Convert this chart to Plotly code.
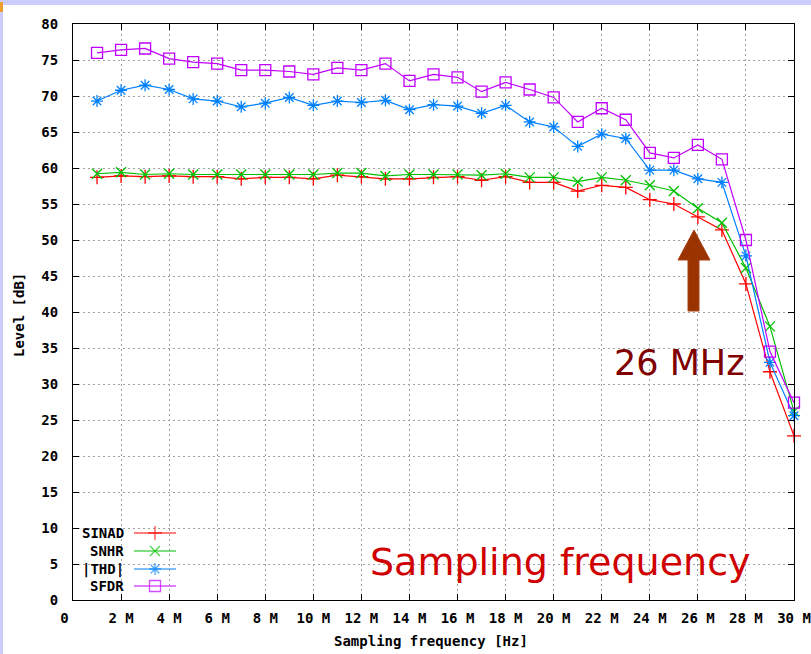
import plotly.graph_objects as go

# ---------------- data ----------------
freq_mhz = list(range(1, 31))
sinad = [58.7, 58.9, 58.8, 58.9, 58.8, 58.8, 58.5, 58.7, 58.7, 58.5,
         59.0, 58.8, 58.5, 58.5, 58.7, 58.8, 58.3, 58.8, 58.0, 58.0,
         56.8, 57.6, 57.3, 55.6, 55.0, 53.2, 51.4, 43.9, 31.7, 22.8]
snhr = [59.2, 59.4, 59.1, 59.2, 59.1, 59.1, 59.1, 59.1, 59.1, 59.1,
        59.3, 59.3, 58.9, 59.1, 59.1, 59.1, 59.0, 59.2, 58.7, 58.7,
        58.1, 58.7, 58.3, 57.6, 56.8, 54.4, 52.4, 46.1, 38.0, 26.2]
thd = [69.3, 70.8, 71.5, 70.9, 69.6, 69.3, 68.5, 69.0, 69.8, 68.7,
       69.3, 69.1, 69.4, 68.1, 68.8, 68.6, 67.6, 68.7, 66.4, 65.7,
       63.0, 64.7, 64.1, 59.7, 59.7, 58.5, 58.0, 47.8, 33.0, 25.6]
sfdr = [76.0, 76.4, 76.6, 75.2, 74.7, 74.5, 73.6, 73.6, 73.4, 73.0,
        73.9, 73.6, 74.5, 72.1, 73.0, 72.6, 70.6, 71.9, 70.9, 69.8,
        66.4, 68.3, 66.7, 62.1, 61.4, 63.2, 61.2, 50.0, 34.5, 27.4]

series_names = ["SINAD", "SNHR", "|THD|", "SFDR"]
series_values = [sinad, snhr, thd, sfdr]
series_colors = ["#ff0000", "#00c000", "#0080ff", "#c000ff"]
series_symbols = ["cross-thin-open", "x-thin-open", "asterisk-open", "square-open"]
series_sizes = [10, 10, 10, 11]

x_tick_vals = list(range(0, 31, 2))
x_tick_text = ["0\u00a0\u00a0"] + [f"{v} M" for v in range(2, 31, 2)]
y_tick_vals = list(range(0, 81, 5))

# ---------------- layout geometry (pixels) ----------------
W, H = 811, 654
L, R, T, B = 73, 794, 24, 600
pw, ph = R - L, B - T


def px_x(px):  # pixel -> paper x
    return (px - L) / pw


def px_y(py):  # pixel -> paper y
    return (B - py) / ph


mono = "DejaVu Sans Mono"
FS = 14

fig = go.Figure()

for name, vals, col, sym, sz in zip(series_names, series_values, series_colors,
                                    series_symbols, series_sizes):
    fig.add_trace(go.Scatter(
        x=freq_mhz, y=vals, mode="lines+markers", name=name,
        line=dict(color=col, width=1.2),
        marker=dict(symbol=sym, size=sz, color=col, line=dict(color=col, width=1.3)),
        showlegend=False, cliponaxis=False,
    ))

# ---- manual gnuplot-style legend (text left, sample right) ----
legend_rows_px = [533, 551, 569, 586]
shapes = []
annotations = []
# white box behind legend covering grid
shapes.append(dict(type="rect", xref="paper", yref="paper",
                   x0=px_x(L), x1=px_x(189), y0=px_y(B), y1=px_y(521),
                   fillcolor="white", line=dict(width=0), layer="between"))
for name, col, sym, sz, py in zip(series_names, series_colors, series_symbols,
                                  series_sizes, legend_rows_px):
    annotations.append(dict(xref="paper", yref="paper", x=px_x(126), y=px_y(py),
                            text=name, showarrow=False, xanchor="right", yanchor="middle",
                            font=dict(family=mono, size=FS, color="black", weight="bold")))
    shapes.append(dict(type="line", xref="paper", yref="paper",
                       x0=px_x(134), x1=px_x(176), y0=px_y(py), y1=px_y(py),
                       line=dict(color=col, width=1.2), layer="above"))
fig.add_trace(go.Scatter(
    x=[px_x(155)] * 4, y=[px_y(p) for p in legend_rows_px],
    xaxis="x2", yaxis="y2", mode="markers", showlegend=False, hoverinfo="skip",
    marker=dict(symbol=series_symbols, size=series_sizes, color=series_colors,
                line=dict(color=series_colors, width=1.3)),
))

# ---- arrow at 26 MHz ----
def ax_(px):
    return (px - L) / pw * 30


def ay_(py):
    return (B - py) / ph * 80


arrow_pts = [(688, 311), (688, 260), (678, 260), (694, 230), (710, 260), (699, 260), (699, 311)]
path = "M " + " L ".join(f"{ax_(x):.4f},{ay_(y):.4f}" for x, y in arrow_pts) + " Z"
shapes.append(dict(type="path", xref="x", yref="y", path=path,
                   fillcolor="#993300", line=dict(color="#a84010", width=1), layer="above"))

annotations.append(dict(xref="paper", yref="paper", x=px_x(679), y=px_y(363),
                        text="26 MHz", showarrow=False, xanchor="center", yanchor="middle",
                        font=dict(family="DejaVu Sans", size=35, color="#800000")))
annotations.append(dict(xref="paper", yref="paper", x=px_x(560), y=px_y(562),
                        text="Sampling frequency", showarrow=False, xanchor="center",
                        yanchor="middle",
                        font=dict(family="DejaVu Sans", size=38, color="#d00000")))

# axis titles
annotations.append(dict(xref="paper", yref="paper", x=px_x(431), y=px_y(641),
                        text="Sampling frequency [Hz]", showarrow=False,
                        xanchor="center", yanchor="middle",
                        font=dict(family=mono, size=FS, color="black", weight="bold")))
annotations.append(dict(xref="paper", yref="paper", x=px_x(19), y=px_y(315),
                        text="Level [dB]", showarrow=False, textangle=-90,
                        xanchor="center", yanchor="middle",
                        font=dict(family=mono, size=FS, color="black", weight="bold")))

# lavender window-frame strips
shapes.append(dict(type="rect", xref="paper", yref="paper",
                   x0=px_x(0), x1=px_x(W), y0=px_y(5), y1=px_y(0),
                   fillcolor="#ccccff", line=dict(width=0), layer="above"))
shapes.append(dict(type="rect", xref="paper", yref="paper",
                   x0=px_x(0), x1=px_x(3), y0=px_y(H), y1=px_y(0),
                   fillcolor="#ccccff", line=dict(width=0), layer="above"))
shapes.append(dict(type="rect", xref="paper", yref="paper",
                   x0=px_x(0), x1=px_x(3), y0=px_y(12), y1=px_y(2),
                   fillcolor="#f0a030", line=dict(width=0), layer="above"))

tickfont = dict(family=mono, size=FS, color="black", weight="bold")
grid = dict(showgrid=True, gridcolor="#a0a0a0", gridwidth=1, griddash="2px,3px")

fig.update_layout(
    width=W, height=H, autosize=False,
    margin=dict(l=L, r=W - R, t=T, b=H - B, pad=0, autoexpand=False),
    paper_bgcolor="white", plot_bgcolor="white",
    showlegend=False,
    xaxis=dict(range=[0, 30], tickmode="array", tickvals=x_tick_vals, ticktext=x_tick_text,
               ticks="inside", ticklen=6, tickcolor="black", tickwidth=1,
               showline=True, linecolor="black", linewidth=1, mirror="allticks",
               zeroline=False, tickfont=tickfont, ticklabelstandoff=5, automargin=False,
               **grid),
    yaxis=dict(range=[0, 80], tickmode="array", tickvals=y_tick_vals,
               ticks="inside", ticklen=6, tickcolor="black", tickwidth=1,
               showline=True, linecolor="black", linewidth=1, mirror="allticks",
               zeroline=False, tickfont=tickfont, ticklabelstandoff=11, automargin=False,
               **grid),
    xaxis2=dict(range=[0, 1], overlaying="x", visible=False, fixedrange=True),
    yaxis2=dict(range=[0, 1], overlaying="y", visible=False, fixedrange=True),
    shapes=shapes, annotations=annotations,
)

fig.write_html("out.html")
